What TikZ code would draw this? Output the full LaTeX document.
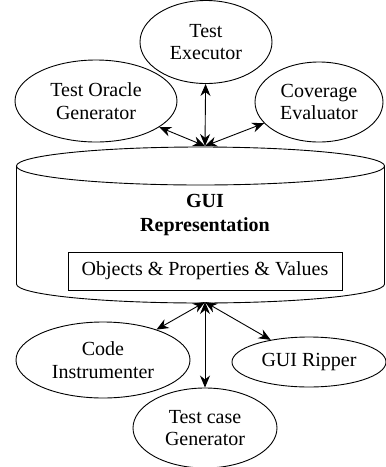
\documentclass[tikz,border=0pt]{standalone}
\usepackage{fontspec}
\setmainfont{Liberation Serif}
\usetikzlibrary{shapes.geometric,arrows.meta}
\begin{document}
\begin{tikzpicture}[x=1pt,y=-1pt,
  every node/.style={font=\fontsize{20}{22.5}\selectfont},
  oval/.style={draw,ellipse,line width=0.9pt,inner sep=0pt,align=center},
  link/.style={line width=0.9pt,{Stealth[length=12pt,width=10pt]}-{Stealth[length=12pt,width=10pt]}},
  shell/.style={line width=0.9pt}]
\useasboundingbox (0,0) rectangle (386,467);
% cylinder
\draw[shell] (200.5,166) ellipse[x radius=184, y radius=19];
\draw[shell] (16.5,166) -- (16.5,284) arc[start angle=180,end angle=0,x radius=184,y radius=19] -- (384.5,166);
\node[font=\fontsize{20}{23.5}\selectfont\bfseries,align=center] (gui) at (205,215) {GUI\\Representation};
\node[draw,line width=0.9pt,minimum width=274pt,minimum height=38pt,inner sep=0pt] (box) at (205,271) {Objects \& Properties \& Values};
% ellipses
\node[oval,minimum width=132pt,minimum height=83pt] (exec) at (206,42) {Test\\Executor};
\node[oval,minimum width=162pt,minimum height=82pt] (oracle) at (96,101) {Test Oracle\\Generator};
\node[oval,minimum width=128pt,minimum height=80pt] (cov) at (319,102) {Coverage\\Evaluator};
\node[oval,minimum width=174pt,minimum height=76pt] (code) at (103,360) {Code\\Instrumenter};
\node[oval,minimum width=154pt,minimum height=50pt] (ripper) at (309,362) {GUI Ripper};
\node[oval,minimum width=144pt,minimum height=80pt] (tcg) at (205,428) {Test case\\Generator};
% meeting points
\coordinate (mtop) at (205,146);
\coordinate (mbot) at (205,302);
\draw[link] (mtop) -- (exec);
\draw[link] (mtop) -- (oracle);
\draw[link] (mtop) -- (cov);
\draw[link] (mbot) -- (code);
\draw[link] (mbot) -- (ripper);
\draw[link] (mbot) -- (tcg);
\end{tikzpicture}
\end{document}
